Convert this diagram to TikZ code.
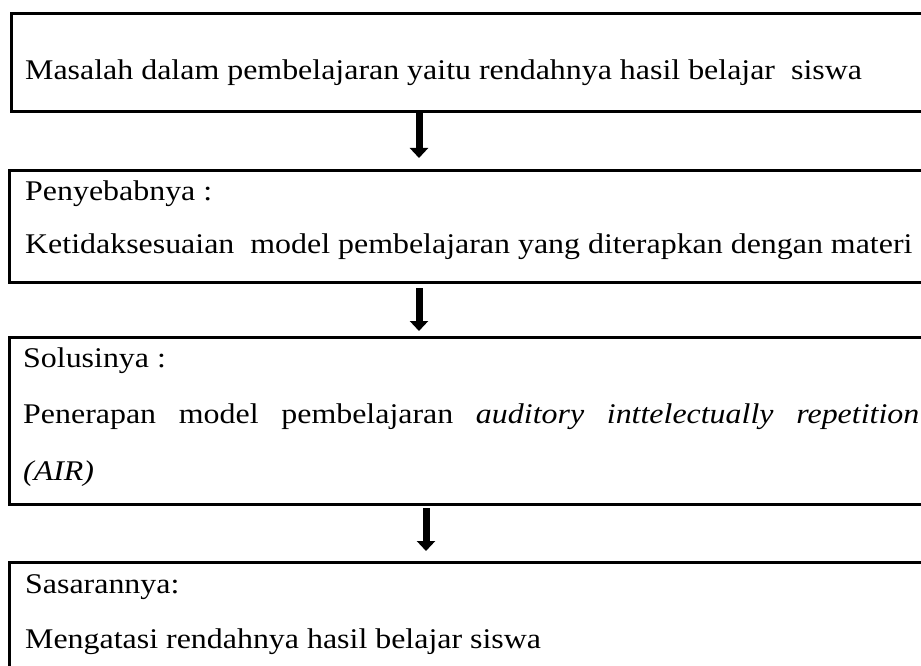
\documentclass[tikz,border=0pt]{standalone}
\usepackage{fontspec}
\setmainfont{Liberation Serif}
\usetikzlibrary{arrows.meta}
\newcommand\wide[1]{\scalebox{1.12}[1]{#1}}
\begin{document}
\begin{tikzpicture}[x=1pt, y=-1pt, line join=miter, >={Triangle[width=18pt,length=10pt]},
 panel/.style={draw, line width=3pt, rectangle, anchor=north west, inner sep=0pt, outer sep=0pt},
 txt/.style={anchor=base west, inner sep=0pt, font=\fontsize{28.5}{34}\selectfont},
 fatarrow/.style={->, line width=7pt}]
 \useasboundingbox (0,0) rectangle (921,666);
 \clip (0,0) rectangle (921,666);
 % kotak
 \node[panel, minimum width=915pt, minimum height=98pt] (masalah) at (11,14) {};
 \node[panel, minimum width=917pt, minimum height=112pt] (penyebab) at (9,170) {};
 \node[panel, minimum width=917pt, minimum height=167pt] (solusi) at (9,337) {};
 \node[panel, minimum width=917pt, minimum height=118pt] (sasaran) at (9,562) {};
 % teks
 \node[txt] (t1) at (25,80) {\wide{Masalah dalam pembelajaran yaitu rendahnya hasil belajar~~siswa}};
 \node[txt] (t2) at (25,200) {\wide{Penyebabnya :}};
 \node[txt] (t3) at (25,253) {\wide{Ketidaksesuaian~~model pembelajaran yang diterapkan dengan materi}};
 \node[txt] (t4) at (23,367) {\wide{Solusinya :}};
 \node[txt] (t5) at (23,423) {\wide{\hbox to 800pt{Penerapan\hfill model\hfill pembelajaran\hfill \textit{auditory}\hfill \textit{inttelectually}\hfill \textit{repetition}}}};
 \node[txt] (t6) at (23,480) {\wide{\textit{(AIR)}}};
 \node[txt] (t7) at (25,593) {\wide{Sasarannya:}};
 \node[txt] (t8) at (25,648) {\wide{Mengatasi rendahnya hasil belajar siswa}};
 % panah
 \coordinate (a1) at (419,0);
 \coordinate (a3) at (426,0);
 \draw[fatarrow] (masalah.south -| a1) -- ([yshift=12pt]penyebab.north -| a1);
 \draw[fatarrow] ([yshift=-6pt]penyebab.south -| a1) -- ([yshift=6pt]solusi.north -| a1);
 \draw[fatarrow] ([yshift=-4pt]solusi.south -| a3) -- ([yshift=11pt]sasaran.north -| a3);
\end{tikzpicture}
\end{document}
